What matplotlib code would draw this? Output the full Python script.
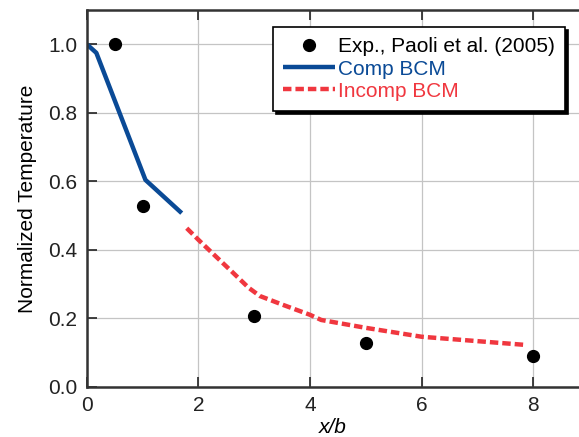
import matplotlib
matplotlib.use("Agg")
import matplotlib.pyplot as plt

plt.rcParams['font.family'] = ['Liberation Sans', 'DejaVu Sans']

exp_x = [0.5, 1.0, 3.0, 5.0, 8.0]
exp_y = [1.0, 0.528, 0.208, 0.127, 0.09]

comp_x = [0.0, 0.17, 1.05, 1.70]
comp_y = [1.0, 0.975, 0.604, 0.507]

incomp_x = [1.79, 2.0, 2.25, 2.6, 2.9, 3.1, 3.5, 4.0, 4.2, 5.0, 6.0, 7.87]
incomp_y = [0.463, 0.429, 0.39, 0.336, 0.289, 0.265, 0.24, 0.21, 0.195, 0.172, 0.146, 0.122]

xticks = [0, 2, 4, 6, 8]
yticks = [0.0, 0.2, 0.4, 0.6, 0.8, 1.0]

fig = plt.figure(figsize=(5.79, 4.37), dpi=100)
ax = fig.add_axes([0.150, 0.115, 0.85, 0.862])

ax.plot(exp_x, exp_y, 'o', color='black', markersize=8.5, label='Exp., Paoli et al. (2005)', zorder=5)
ax.plot(comp_x, comp_y, '-', color='#0a4a96', linewidth=3.2, label='Comp BCM', solid_capstyle='butt')
ax.plot(incomp_x, incomp_y, '--', color='#f0373f', linewidth=3.2, dashes=(1.9, 0.9), label='Incomp BCM')

ax.set_xlim(0, 8.82)
ax.set_ylim(0, 1.1)
ax.set_xticks(xticks)
ax.set_yticks(yticks)
ax.set_xticklabels([str(t) for t in xticks])
ax.set_yticklabels([f"{t:.1f}" for t in yticks])
ax.tick_params(axis='both', direction='in', length=7, width=1.2, labelsize=15,
               top=True, right=False, colors='#222222')
ax.tick_params(axis='x', pad=7)
ax.tick_params(axis='y', pad=7)
ax.grid(True, color='#c4c4c4', linewidth=0.9)
ax.set_axisbelow(True)

for s in ['left', 'bottom', 'top']:
    ax.spines[s].set_linewidth(1.8)
    ax.spines[s].set_color('#333333')
ax.spines['right'].set_visible(False)

ax.set_xlabel('x/b', fontsize=15, style='italic', labelpad=2)
ax.set_ylabel('Normalized Temperature', fontsize=15, labelpad=8)

leg = ax.legend(loc='upper right', bbox_to_anchor=(0.972, 0.955), fontsize=15,
                frameon=True, fancybox=False, edgecolor='black',
                shadow={'color': 'black', 'alpha': 1.0},
                handlelength=2.5, handletextpad=0.12, labelspacing=0.15,
                borderpad=0.5, borderaxespad=0.0)
leg.get_frame().set_linewidth(1.2)
texts = leg.get_texts()
texts[0].set_color('black')
texts[1].set_color('#0a4a96')
texts[2].set_color('#f0373f')

fig.savefig('out.png', dpi=100)
